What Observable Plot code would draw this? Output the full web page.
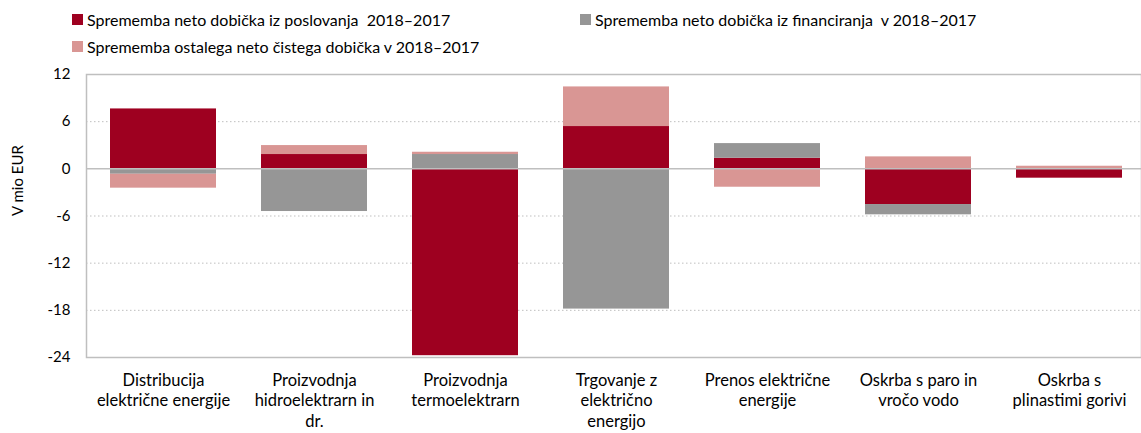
<!DOCTYPE html>
<html>
<head>
<meta charset="utf-8">
<script src="https://cdn.jsdelivr.net/npm/d3@7"></script>
<script src="https://cdn.jsdelivr.net/npm/@observablehq/plot@0.6"></script>
<style>
  html, body { margin: 0; padding: 0; background: #fff; }
  #wrap { position: relative; width: 1141px; height: 433px; overflow: hidden; font-family: Lato, sans-serif; color: #000; }
  #legend { position: relative; height: 62px; font-size: 16px; }
  .item { position: absolute; display: flex; align-items: center; white-space: nowrap; }
  .sw { width: 11px; height: 11px; margin-right: 4px; }
  #chart { position: absolute; top: 62px; left: 0; }
</style>
</head>
<body>
<div id="wrap">
  <div id="legend"></div>
  <div id="chart"></div>
</div>
<script>
const categories = [
  "Distribucija\nelektrične energije",
  "Proizvodnja\nhidroelektrarn in\ndr.",
  "Proizvodnja\ntermoelektrarn",
  "Trgovanje z\nelektrično\nenergijo",
  "Prenos električne\nenergije",
  "Oskrba s paro in\nvročo vodo",
  "Oskrba s\nplinastimi gorivi"
];
const seriesNames = [
  "Sprememba neto dobička iz poslovanja  2018–2017",
  "Sprememba neto dobička iz financiranja  v 2018–2017",
  "Sprememba ostalega neto čistega dobička v 2018–2017"
];
const poslovanje   = [7.62, 1.82, -23.77, 5.38, 1.35, -4.54, -1.19];
const financiranje = [-0.69, -5.43, 1.82, -17.84, 1.86, -1.31, 0.03];
const ostalo       = [-1.77, 1.14, 0.29, 5.04, -2.34, 1.52, 0.30];
const yTicks = [12, 6, 0, -6, -12, -18, -24];
const colors = ["#9E0020", "#969696", "#D99694"];

const seriesValues = [poslovanje, financiranje, ostalo];
const data = [];
seriesValues.forEach((vals, s) => {
  vals.forEach((v, i) => data.push({cat: categories[i], series: seriesNames[s], value: v}));
});

// legend
const legendPos = [[72, 10], [580, 10], [72, 37]];
const legend = document.getElementById("legend");
seriesNames.forEach((n, i) => {
  const d = document.createElement("div");
  d.className = "item";
  d.style.left = legendPos[i][0] + "px";
  d.style.top = legendPos[i][1] + "px";
  d.innerHTML = `<span class="sw" style="background:${colors[i]}"></span><span>${n.replace(/  /g, "&nbsp; ")}</span>`;
  legend.appendChild(d);
});

const chart = Plot.plot({
  width: 1141,
  height: 371,
  marginTop: 12,
  marginBottom: 76,
  marginLeft: 86,
  marginRight: 0,
  style: {fontFamily: "Lato, sans-serif", fontSize: "15px", color: "#000", background: "#fff"},
  x: {domain: categories, range: [86, 1146], paddingInner: 0.3, paddingOuter: 0.15, label: null},
  y: {domain: [-24, 12], ticks: yTicks, label: null},
  color: {domain: seriesNames, range: colors},
  marks: [
    Plot.gridY([6, -6, -12, -18], {stroke: "#BFBFBF", strokeOpacity: 1, strokeDasharray: "1.5,2.5", strokeWidth: 1}),
    Plot.barY(data, Plot.stackY({x: "cat", y: "value", fill: "series", order: seriesNames})),
    Plot.ruleY([0], {stroke: "#BFBFBF", strokeWidth: 1.5}),
    Plot.frame({stroke: "#BFBFBF", strokeWidth: 1.5}),
    Plot.axisY(yTicks, {tickSize: 0, tickPadding: 16, fontSize: 15, tickFormat: d => String(d)}),
    Plot.axisX({tickSize: 0, tickPadding: 14, fontSize: 16.5, lineHeight: 1.24, tickFormat: d => d}),
    Plot.text(["V mio EUR"], {frameAnchor: "left", dx: -68, rotate: -90, fontSize: 15})
  ]
});
document.getElementById("chart").appendChild(chart);
</script>
</body>
</html>
